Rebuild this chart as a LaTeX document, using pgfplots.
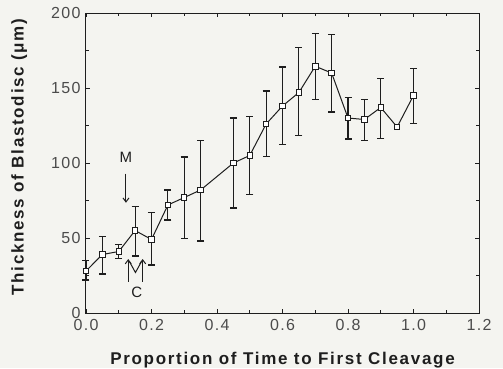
\documentclass[border=0pt]{standalone}
\usepackage{fontspec}
\setmainfont{Liberation Sans}
\newfontfamily\tickfont[LetterSpace=8]{Liberation Sans}
\usepackage{pgfplots}
\pgfplotsset{compat=1.18}
\usepackage{pgfplotstable}
\usetikzlibrary{arrows.meta}
\definecolor{bg}{RGB}{244,244,240}
\definecolor{ink}{RGB}{30,30,30}
\pgfplotstableread{
x y ep em
0.00 28 7 6
0.05 39 12 13
0.10 41 4.5 4.5
0.15 55 16 17
0.20 49 18 17
0.25 72 10 10
0.30 77 27 27.5
0.35 82 33 34
0.45 100 30 30
0.50 105 26 26
0.55 126 22 21.5
0.60 138 26 25.6
0.65 147 30 28.5
0.70 164.5 22 22
0.75 160 25.5 26
0.80 130 13.5 14
0.85 129 13.5 14
0.90 137 19.5 20.5
1.00 145 18 18.5
}\errdata
\pgfplotstableread{
x y
0.00 28
0.05 39
0.10 41
0.15 55
0.20 49
0.25 72
0.30 77
0.35 82
0.45 100
0.50 105
0.55 126
0.60 138
0.65 147
0.70 164.5
0.75 160
0.80 130
0.85 129
0.90 137
0.95 124
1.00 145
}\meandata
\begin{document}
\begin{tikzpicture}
\fill[bg] (-86pt,-55pt) rectangle (417pt,313pt);
\path[use as bounding box] (-86pt,-55pt) rectangle (417pt,313pt);
\begin{axis}[
  at={(0,0)}, anchor=south west,
  scale only axis, width=393pt, height=300pt,
  xmin=0, xmax=1.2, ymin=0, ymax=200,
  xtick={0,0.2,...,1.21}, minor x tick num=1,
  ytick={0,50,...,200}, minor y tick num=1,
  xticklabels={0.0,0.2,0.4,0.6,0.8,1.0,1.2},
  yticklabels={0,50,100,150,200},
  axis line style={ink, line width=1pt},
  every tick/.style={ink, line width=0.9pt},
  major tick length=4pt, minor tick length=3pt,
  tick align=inside,
  every tick label/.append style={font=\tickfont\fontsize{16}{18}\selectfont, text=ink!80},
  x tick label style={yshift=-3pt},
  y tick label style={xshift=-2pt},
  xlabel={Proportion of Time to First Cleavage},
  ylabel={Thickness of Blastodisc (μm)},
  label style={font=\fontsize{17}{19}\selectfont\bfseries\addfontfeatures{LetterSpace=10}, text=ink},
  xlabel style={at={(axis description cs:0.5,-0.157)}, anchor=center},
  ylabel style={at={(axis description cs:-0.17,0.52)}, anchor=center},
  clip=false,
]
\addplot[ink, line width=1.2pt, draw=none, mark=none, forget plot,
  error bars/.cd, y dir=both, y explicit,
  error bar style={ink, line width=1.2pt},
  error mark options={ink, rotate=90, mark size=3.5pt, line width=1.2pt}]
  table[x=x, y=y, y error plus=ep, y error minus=em] {\errdata};
\addplot[ink, line width=1pt, mark=square*, mark size=2.7pt,
  mark options={fill=white, draw=ink, line width=0.9pt}]
  table[x=x, y=y] {\meandata};
\node[font=\fontsize{15}{17}\selectfont, text=ink] at (axis cs:0.122,104) {M};
\draw[ink, line width=1pt, -{Straight Barb[length=4pt,width=6pt]}] (axis cs:0.122,93) -- (axis cs:0.122,73.5);
\draw[ink, line width=1pt, -{Straight Barb[length=4pt,width=6pt]}] (axis cs:0.129,21) -- (axis cs:0.129,36);
\draw[ink, line width=1pt, -{Straight Barb[length=4pt,width=6pt]}] (axis cs:0.173,21) -- (axis cs:0.173,36);
\draw[ink, line width=1pt] (axis cs:0.132,34.5) -- (axis cs:0.151,27) -- (axis cs:0.170,34.5);
\node[font=\fontsize{15}{17}\selectfont, text=ink] at (axis cs:0.155,13.5) {C};
\end{axis}
\end{tikzpicture}
\end{document}
